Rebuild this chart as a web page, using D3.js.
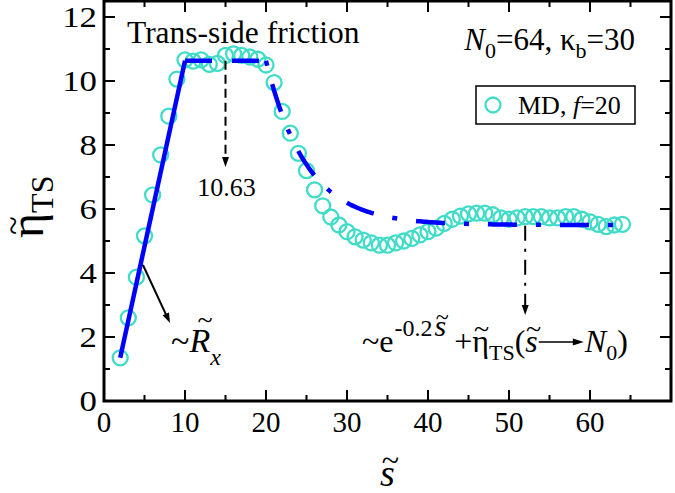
<!DOCTYPE html>
<html><head><meta charset="utf-8">
<script src="https://cdn.jsdelivr.net/npm/d3@7"></script>
<style>
html,body{margin:0;padding:0;background:#fff;}
text{font-family:"Liberation Serif","Times New Roman",serif;fill:#000;}
</style></head>
<body><svg id="c" width="675" height="493"></svg>
<script>
// ---- data ----
const sValues = [2,3,4,5,6,7,8,9,10,11,12,13,14,15,16,17,18,19,20,21,22,23,24,25,26,27,28,29,30,31,32,33,34,35,36,37,38,39,40,41,42,43,44,45,46,47,48,49,50,51,52,53,54,55,56,57,58,59,60,61,62,63,64];
const etaValues = [1.35,2.6,3.87,5.16,6.44,7.69,8.9,10.06,10.66,10.62,10.66,10.52,10.55,10.8,10.85,10.8,10.75,10.68,10.5,9.95,9.05,8.37,7.74,7.2,6.6,6.1,5.75,5.5,5.29,5.13,5.03,4.94,4.87,4.87,4.94,5.0,5.08,5.19,5.29,5.4,5.55,5.68,5.78,5.85,5.87,5.87,5.82,5.72,5.68,5.72,5.76,5.76,5.76,5.72,5.72,5.76,5.76,5.68,5.6,5.52,5.45,5.5,5.52];
const linearFit = [[2,1.35],[10,10.63]];
const plateauValue = 10.63;
const plateauRange = [10,20];
const decayRate = 0.2;
const asymptote = 5.5;
const decayRange = [20,64];
const xTicks = [0,10,20,30,40,50,60];
const yTicks = [0,2,4,6,8,10,12];
const xMinor = [5,15,25,35,45,55,65];
const yMinor = [1,3,5,7,9,11];

const svg = d3.select("#c");
const L=104,R=671,T=1,B=401;
const x = d3.scaleLinear().domain([0,70]).range([L,R]);
const y = d3.scaleLinear().domain([0,12.5]).range([B,T]);

// ticks (inward, all four sides)
const tk = svg.append("g").attr("stroke","#000").attr("stroke-width",2);
xTicks.concat(xMinor).forEach(v=>{
  const len = xTicks.includes(v)?11:6;
  tk.append("line").attr("x1",x(v)).attr("x2",x(v)).attr("y1",B).attr("y2",B-len);
  tk.append("line").attr("x1",x(v)).attr("x2",x(v)).attr("y1",T).attr("y2",T+len);
});
yTicks.concat(yMinor).forEach(v=>{
  const len = yTicks.includes(v)?11:6;
  tk.append("line").attr("y1",y(v)).attr("y2",y(v)).attr("x1",L).attr("x2",L+len);
  tk.append("line").attr("y1",y(v)).attr("y2",y(v)).attr("x1",R).attr("x2",R-len);
});
svg.append("rect").attr("x",L).attr("y",T).attr("width",R-L).attr("height",B-T)
  .attr("fill","none").attr("stroke","#000").attr("stroke-width",3);

// tick labels
svg.append("g").selectAll("text").data(xTicks).join("text")
  .attr("x",d=>x(d)).attr("y",B+31).attr("text-anchor","middle")
  .attr("font-size",29).text(d=>d);
svg.append("g").selectAll("text").data(yTicks).join("text")
  .attr("transform",d=>`translate(${L-7},${y(d)+10}) scale(1.2,1)`).attr("text-anchor","end")
  .attr("font-size",29).text(d=>d);

// data circles
const pts = sValues.map((s,i)=>[s,etaValues[i]]);
svg.append("g").selectAll("circle").data(pts).join("circle")
  .attr("cx",d=>x(d[0])).attr("cy",d=>y(d[1])).attr("r",7.5)
  .attr("fill","none").attr("stroke","#40dcc8").attr("stroke-width",2.3);

// fits
const line = d3.line().x(d=>x(d[0])).y(d=>y(d[1]));
svg.append("path").datum(linearFit).attr("d",line)
  .attr("fill","none").attr("stroke","#0000ff").attr("stroke-width",4.5);
svg.append("path").datum(plateauRange.map(s=>[s,plateauValue])).attr("d",line)
  .attr("fill","none").attr("stroke","#0000ff").attr("stroke-width",4.5)
  .attr("stroke-dasharray","27,20");
const A = (plateauValue-asymptote)*Math.exp(decayRate*decayRange[0]);
const expPts = d3.range(decayRange[0],decayRange[1]+0.001,0.25).map(s=>[s,A*Math.exp(-decayRate*s)+asymptote]);
svg.append("path").datum(expPts).attr("d",line)
  .attr("fill","none").attr("stroke","#0000ff").attr("stroke-width",4.5)
  .attr("stroke-dasharray","5,19,29,19");

// arrows
function arrowHead(px,py,angle){
  const l=10,w=3.5;
  const p=[[0,0],[-l,-w],[-l,w]].map(([a,b])=>[px+a*Math.cos(angle)-b*Math.sin(angle), py+a*Math.sin(angle)+b*Math.cos(angle)]);
  svg.append("path").attr("d","M"+p.join("L")+"Z").attr("fill","#000");
}
svg.append("line").attr("x1",x(15)).attr("x2",x(15)).attr("y1",y(plateauValue)).attr("y2",y(7.55))
  .attr("stroke","#000").attr("stroke-width",2).attr("stroke-dasharray","9,5");
arrowHead(x(15),y(7.31),Math.PI/2);
svg.append("text").attr("x",x(15)+1).attr("y",196).attr("text-anchor","middle").attr("font-size",26).text("10.63");

svg.append("line").attr("x1",x(52)).attr("x2",x(52)).attr("y1",y(5.48)).attr("y2",y(2.95))
  .attr("stroke","#000").attr("stroke-width",2).attr("stroke-dasharray","15,8,3,8");
arrowHead(x(52),y(2.69),Math.PI/2);

const a0=[4.81,4.25], a1=[8.15,2.44];
svg.append("line").attr("x1",x(a0[0])).attr("y1",y(a0[1])).attr("x2",x(a1[0])-2).attr("y2",y(a1[1])-4)
  .attr("stroke","#000").attr("stroke-width",2);
arrowHead(x(a1[0]),y(a1[1]),Math.atan2(y(a1[1])-y(a0[1]),x(a1[0])-x(a0[0])));

// helper: tilde accent over a glyph
function tildeOver(parent, cx, base, size){
  parent.append("text").attr("x",cx).attr("y",base).attr("text-anchor","middle")
    .attr("font-size",size).text("~");
}

// texts
svg.append("text").attr("x",127).attr("y",43).attr("font-size",31.5).text("Trans-side friction");

const nt = svg.append("text").attr("x",635).attr("y",50).attr("text-anchor","end").attr("font-size",31);
nt.append("tspan").attr("font-style","italic").text("N");
nt.append("tspan").attr("font-size",22).attr("dy",8).text("0");
nt.append("tspan").attr("dy",-8).text("=64, κ");
nt.append("tspan").attr("font-size",22).attr("dy",8).text("b");
nt.append("tspan").attr("dy",-8).text("=30");

// legend
svg.append("rect").attr("x",476).attr("y",86).attr("width",159).attr("height",38)
  .attr("fill","none").attr("stroke","#000").attr("stroke-width",1.5);
svg.append("circle").attr("cx",493).attr("cy",105).attr("r",7.5).attr("fill","none").attr("stroke","#40dcc8").attr("stroke-width",2.3);
const lt = svg.append("text").attr("x",518).attr("y",114).attr("font-size",26);
lt.append("tspan").text("MD, ");
lt.append("tspan").attr("font-style","italic").text("f");
lt.append("tspan").text("=20");

// ~R_x
const rt = svg.append("text").attr("x",171).attr("y",352).attr("font-size",34);
rt.append("tspan").text("~");
rt.append("tspan").attr("font-style","italic").text("R");
rt.append("tspan").attr("font-style","italic").attr("font-size",24).attr("dy",13).text("x");
tildeOver(svg, 205, 329, 28);

// decay label
const fs=32, fsub=22;
const et = svg.append("text").attr("x",362).attr("y",352).attr("font-size",fs);
et.append("tspan").text("~e");
et.append("tspan").attr("font-size",24).attr("dy",-16).attr("dx",1).text("-0.2");
const sS = et.append("tspan").attr("font-size",30).attr("font-style","italic").attr("dx",2).text("s");
et.append("tspan").attr("dy",16).attr("dx",8).text("+");
const eta1 = et.append("tspan").text("η");
et.append("tspan").attr("font-size",fsub).attr("dy",8).text("TS");
et.append("tspan").attr("dy",-8).text("(");
const sP = et.append("tspan").attr("font-style","italic").text("s");
function charCenter(tspanNode){
  const t = et.node();
  let idx=0;
  for(const c of t.childNodes){ if(c===tspanNode) break; idx += c.textContent.length; }
  const ext = t.getExtentOfChar(idx);
  return ext.x + ext.width/2;
}
tildeOver(svg, charCenter(sS.node())+2, 325, 24);
tildeOver(svg, charCenter(eta1.node())+1, 338, 28);
tildeOver(svg, charCenter(sP.node())+2, 338, 28);
const eb = et.node().getBBox();
const arX0 = eb.x+eb.width+1;
svg.append("line").attr("x1",arX0).attr("x2",arX0+37).attr("y1",342).attr("y2",342).attr("stroke","#000").attr("stroke-width",1.5);
svg.append("path").attr("d",`M${arX0+45},342L${arX0+34},338.5L${arX0+34},345.5Z`).attr("fill","#000");
const et2 = svg.append("text").attr("x",arX0+46).attr("y",352).attr("font-size",fs);
et2.append("tspan").attr("font-style","italic").text("N");
et2.append("tspan").attr("font-size",fsub).attr("dy",8).text("0");
et2.append("tspan").attr("dy",-8).text(")");

// axis titles
const yl = svg.append("g").attr("transform","translate(43,238) rotate(-90)");
const ylt = yl.append("text").attr("x",0).attr("y",0).attr("font-size",48);
ylt.append("tspan").text("η");
ylt.append("tspan").attr("font-size",32).attr("dy",10).text("TS");
const ew = ylt.node().getExtentOfChar(0);
yl.append("text").attr("x",ew.x+ew.width/2).attr("y",-19).attr("text-anchor","middle").attr("font-size",34).text("~");

svg.append("text").attr("x",x(35)).attr("y",486).attr("text-anchor","middle").attr("font-size",38).attr("font-style","italic").text("s");
tildeOver(svg, x(35)+3, 471, 32);
</script></body></html>
